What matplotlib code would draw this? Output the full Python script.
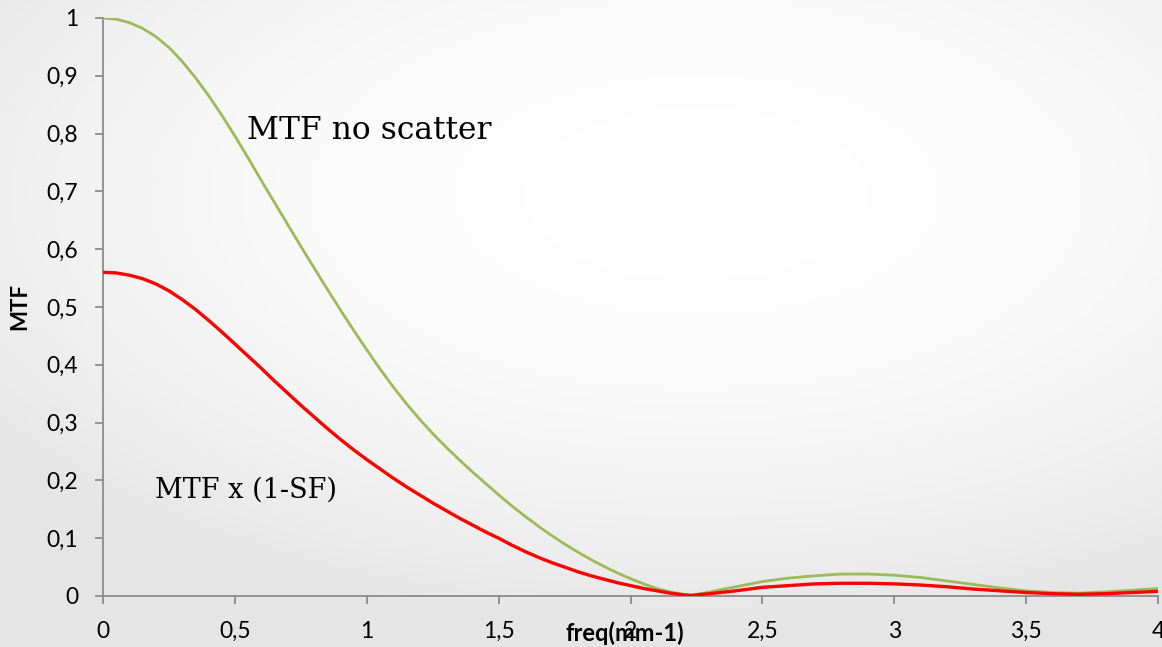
import matplotlib
matplotlib.use("Agg")
import matplotlib.pyplot as plt
import numpy as np

# frequency samples (mm-1)
freq = [0.00, 0.05, 0.10, 0.15, 0.20, 0.25, 0.30, 0.35, 0.40, 0.45,
        0.50, 0.55, 0.60, 0.65, 0.70, 0.75, 0.80, 0.85, 0.90, 0.95,
        1.00, 1.05, 1.10, 1.15, 1.20, 1.25, 1.30, 1.35, 1.40, 1.45,
        1.50, 1.55, 1.60, 1.65, 1.70, 1.75, 1.80, 1.85, 1.90, 1.95,
        2.00, 2.05, 2.10, 2.15, 2.20, 2.23, 2.30, 2.40, 2.50, 2.60,
        2.70, 2.80, 2.90, 3.00, 3.10, 3.20, 3.30, 3.40, 3.50, 3.60,
        3.70, 3.80, 3.90, 4.00]

# MTF without scatter
mtf_no_scatter = [1.000, 0.998, 0.992, 0.982, 0.968, 0.949, 0.925, 0.897, 0.866, 0.832,
                  0.796, 0.758, 0.719, 0.681, 0.643, 0.605, 0.568, 0.531, 0.495, 0.460,
                  0.426, 0.393, 0.362, 0.333, 0.306, 0.281, 0.258, 0.236, 0.215, 0.195,
                  0.175, 0.156, 0.138, 0.121, 0.105, 0.090, 0.076, 0.063, 0.051, 0.040,
                  0.030, 0.021, 0.013, 0.007, 0.003, 0.001, 0.007, 0.016, 0.025, 0.031,
                  0.035, 0.038, 0.038, 0.036, 0.032, 0.026, 0.020, 0.014, 0.009, 0.006,
                  0.005, 0.007, 0.010, 0.013]

# MTF x (1-SF)
mtf_scatter = [0.560, 0.559, 0.555, 0.549, 0.540, 0.528, 0.513, 0.496, 0.477, 0.457,
               0.436, 0.415, 0.394, 0.372, 0.351, 0.330, 0.310, 0.290, 0.271, 0.253,
               0.236, 0.220, 0.204, 0.189, 0.175, 0.161, 0.148, 0.135, 0.123, 0.111,
               0.100, 0.088, 0.077, 0.067, 0.058, 0.050, 0.042, 0.035, 0.029, 0.023,
               0.018, 0.013, 0.009, 0.005, 0.002, 0.001, 0.004, 0.009, 0.015, 0.018,
               0.021, 0.022, 0.022, 0.021, 0.019, 0.016, 0.012, 0.009, 0.006, 0.004,
               0.003, 0.004, 0.006, 0.008]

x_ticks = [0, 0.5, 1, 1.5, 2, 2.5, 3, 3.5, 4]
y_ticks = [0, 0.1, 0.2, 0.3, 0.4, 0.5, 0.6, 0.7, 0.8, 0.9, 1]

W, H = 1162, 647
fig = plt.figure(figsize=(W / 100, H / 100), dpi=100)

# soft grey background, lighter towards the upper middle
bg = fig.add_axes([0, 0, 1, 1], zorder=-10)
yy, xx = np.mgrid[0:1:200j, 0:1:360j]
r = np.sqrt(((xx - 0.6) / 1.0) ** 2 + ((yy - 0.3) / 0.9) ** 2)
shade = 1.0 - 0.10 * np.clip(r / 0.75, 0, 1) ** 2
bg.imshow(np.dstack([shade] * 3), extent=[0, 1, 0, 1], aspect="auto", origin="upper")
bg.axis("off")

ax = fig.add_axes([103 / W, 1 - 596 / H, (1158 - 103) / W, (596 - 18) / H])
ax.patch.set_alpha(0)

ax.plot(freq, mtf_no_scatter, color="#9bbb59", lw=2.0, solid_joinstyle="round", zorder=3)
ax.plot(freq, mtf_scatter, color="#ff0000", lw=2.4, solid_joinstyle="round", zorder=4)

ax.set_xlim(0, 4)
ax.set_ylim(0, 1)
ax.set_xticks(x_ticks)
ax.set_yticks(y_ticks)
ax.set_xticklabels([f"{v:g}".replace(".", ",") for v in x_ticks])
ax.set_yticklabels([f"{v:g}".replace(".", ",") for v in y_ticks])

for side in ["top", "right"]:
    ax.spines[side].set_visible(False)
for side in ["left", "bottom"]:
    ax.spines[side].set_color("#8c8c8c")
    ax.spines[side].set_linewidth(1.3)

ax.tick_params(axis="both", direction="out", length=6, width=1.3, color="#8c8c8c",
               labelsize=16.5, pad=12)
for lab in ax.get_xticklabels() + ax.get_yticklabels():
    lab.set_fontfamily("Lato")
    lab.set_clip_on(False)

fig.text(20 / W, 1 - 306 / H, "MTF", rotation=90, fontsize=16, fontweight="bold",
         family="Lato", ha="center", va="center")
fig.text(625 / W, 1 - 633 / H, "freq(mm-1)", fontsize=17, fontweight="bold",
         family="Lato", ha="center", va="center")

ax.text(0.547, 0.79, "MTF no scatter", fontsize=22.6, family="DejaVu Serif", va="baseline")
ax.text(0.197, 0.17, "MTF x (1-SF)", fontsize=19.5, family="DejaVu Serif", va="baseline")

fig.savefig("out.png", dpi=100)
